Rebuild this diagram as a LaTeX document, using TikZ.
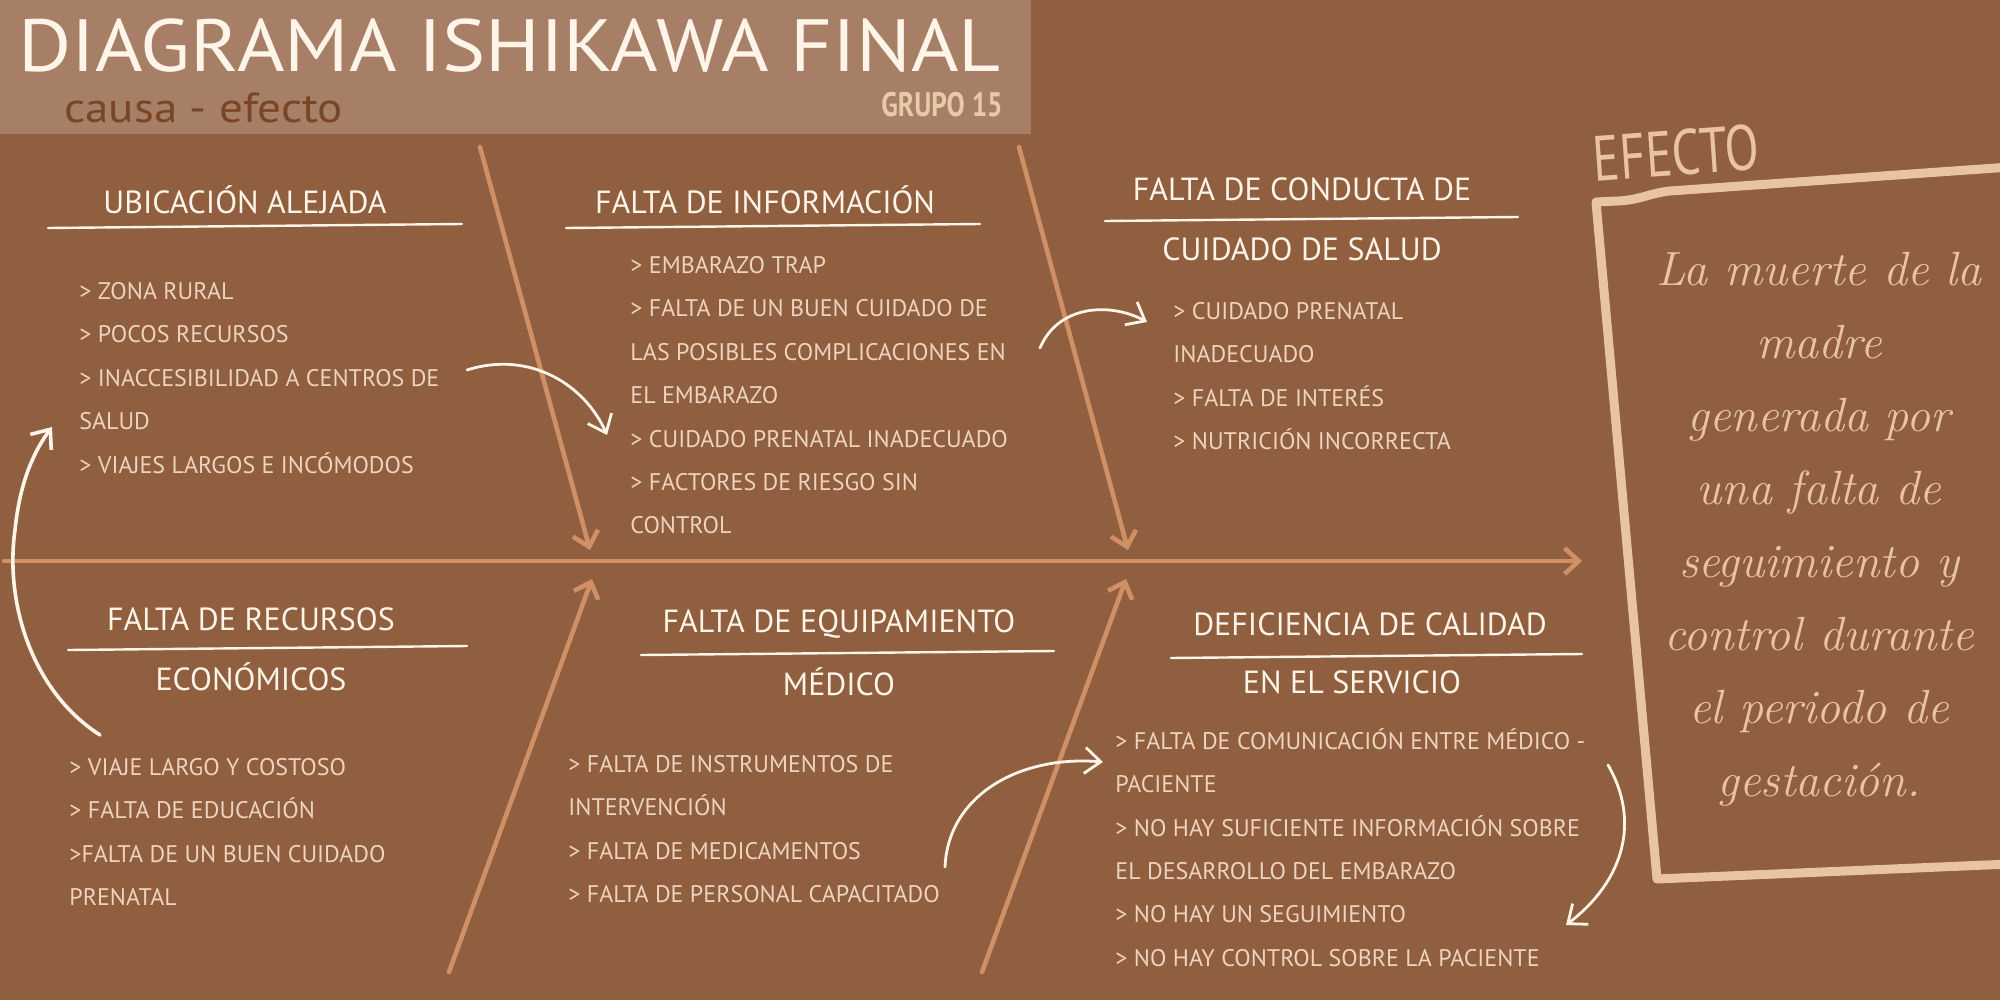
\documentclass[tikz,border=0pt]{standalone}
\usepackage{fontspec}
\usepackage{graphicx}
\newfontfamily\sansf{PT Sans}
\usetikzlibrary{arrows.meta}
\definecolor{bgbrown}{HTML}{8F5F3F}
\definecolor{bandbrown}{HTML}{A67F66}
\definecolor{spinecol}{HTML}{D08F65}
\definecolor{chalk}{HTML}{FFF4E8}
\definecolor{itemcol}{HTML}{EED3BE}
\definecolor{peach}{HTML}{E9C4A4}
\definecolor{darkbrown}{HTML}{7A4524}
\definecolor{grupocol}{HTML}{E8C9A8}
\tikzset{
  bone/.style={draw=spinecol, line width=2.3pt, line cap=round,
    -{Straight Barb[length=7pt,width=13pt]}},
  chalkarrow/.style={draw=chalk, line width=1.4pt, line cap=round,
    -{Straight Barb[length=8pt,width=13pt]}},
  headtxt/.style={font=\sansf\fontsize{16}{18}\selectfont, text=chalk, inner sep=0pt},
  itemtxt/.style={font=\sansf\fontsize{12}{21.7}\selectfont, text=itemcol,
    align=left, anchor=north west, inner sep=0pt},
  uline/.style={draw=chalk, line width=1.2pt, line cap=round},
}
\begin{document}
\begin{tikzpicture}[x=0.5pt,y=-0.5pt]
\useasboundingbox (0,0) rectangle (2000,1000);
\fill[bgbrown] (0,0) rectangle (2000,1000);
% header band
\fill[bandbrown] (0,0) rectangle (1031,134);
\node[anchor=west, inner sep=0pt, text=chalk, font=\sansf\fontsize{37}{40}\selectfont] (title) at (18,46) {\scalebox{1.1}[1]{DIAGRAMA ISHIKAWA FINAL}};
\node[anchor=west, inner sep=0pt, text=darkbrown, font=\sansf\fontsize{21}{24}\selectfont] (sub) at (64,108) {\scalebox{1.12}[1]{causa - efecto}};
\node[anchor=east, inner sep=0pt, text=grupocol, font=\sansf\bfseries\fontsize{17}{20}\selectfont] (grupo) at (1003,105) {\scalebox{0.8}[1]{GRUPO 15}};

% spine and ribs
\coordinate (tail) at (4,561);
\coordinate (head) at (1582,561);
\draw[bone] (tail) -- (head);
\coordinate (r1s) at (480,147); \coordinate (r1e) at (590,550);
\coordinate (r2s) at (1019,147); \coordinate (r2e) at (1128,550);
\coordinate (r3s) at (449,972); \coordinate (r3e) at (592,579);
\coordinate (r4s) at (982,972); \coordinate (r4e) at (1126,579);
\draw[bone] (r1s) -- (r1e);
\draw[bone] (r2s) -- (r2e);
\draw[bone] (r3s) -- (r3e);
\draw[bone] (r4s) -- (r4e);

% headings
\node[headtxt] (h1) at (245,200) {UBICACIÓN ALEJADA};
\draw[uline] (48,228) -- (462,224);
\node[headtxt] (h2) at (765,200) {FALTA DE INFORMACIÓN};
\draw[uline] (566,228) -- (980,224);
\node[headtxt] (h3a) at (1302,189) {FALTA DE CONDUCTA DE};
\draw[uline] (1105,221) -- (1518,217);
\node[headtxt] (h3b) at (1302,249) {CUIDADO DE SALUD};
\node[headtxt] (h4a) at (251,619) {FALTA DE RECURSOS};
\draw[uline] (68,650) -- (467,646);
\node[headtxt] (h4b) at (251,677) {ECONÓMICOS};
\node[headtxt] (h5a) at (839,624) {FALTA DE EQUIPAMIENTO};
\draw[uline] (641,655) -- (1054,651);
\node[headtxt] (h5b) at (839,682) {MÉDICO};
\node[headtxt] (h6a) at (1370,624) {DEFICIENCIA DE CALIDAD};
\draw[uline] (1171,658) -- (1582,654);
\node[headtxt] (h6b) at (1352,682) {EN EL SERVICIO};

% item lists
\node[itemtxt] (tl) at (79,282) {> ZONA RURAL\\> POCOS RECURSOS\\> INACCESIBILIDAD A CENTROS DE\\SALUD\\> VIAJES LARGOS E INCÓMODOS};
\node[itemtxt] (tm) at (630,256) {> EMBARAZO TRAP\\> FALTA DE UN BUEN CUIDADO DE\\LAS POSIBLES COMPLICACIONES EN\\EL EMBARAZO\\> CUIDADO PRENATAL INADECUADO\\> FACTORES DE RIESGO SIN\\CONTROL};
\node[itemtxt] (tr) at (1173,302) {> CUIDADO PRENATAL\\INADECUADO\\> FALTA DE INTERÉS\\> NUTRICIÓN INCORRECTA};
\node[itemtxt] (bl) at (69,758) {> VIAJE LARGO Y COSTOSO\\> FALTA DE EDUCACIÓN\\>FALTA DE UN BUEN CUIDADO\\PRENATAL};
\node[itemtxt] (bm) at (568,755) {> FALTA DE INSTRUMENTOS DE\\INTERVENCIÓN\\> FALTA DE MEDICAMENTOS\\> FALTA DE PERSONAL CAPACITADO};
\node[itemtxt] (br) at (1115,728) {> FALTA DE COMUNICACIÓN ENTRE MÉDICO -\\PACIENTE\\> NO HAY SUFICIENTE INFORMACIÓN SOBRE\\EL DESARROLLO DEL EMBARAZO\\> NO HAY UN SEGUIMIENTO\\> NO HAY CONTROL SOBRE LA PACIENTE};

% curved chalk arrows
\coordinate (a1s) at (100,735); \coordinate (a1e) at (52,427);
\draw[chalkarrow, line width=1.8pt] (a1s) .. controls (30,690) and (5,600) .. (15,530) .. controls (20,480) and (35,450) .. (a1e);
\coordinate (a2s) at (467,370); \coordinate (a2e) at (607,435);
\draw[chalkarrow] (a2s) .. controls (530,350) and (585,385) .. (a2e);
\coordinate (a3s) at (1040,348); \coordinate (a3e) at (1147,322);
\draw[chalkarrow] (a3s) .. controls (1058,305) and (1110,302) .. (a3e);
\coordinate (a4s) at (945,867); \coordinate (a4e) at (1103,762);
\draw[chalkarrow] (a4s) .. controls (948,795) and (1020,755) .. (a4e);
\coordinate (a5s) at (1608,765); \coordinate (a5e) at (1566,925);
\draw[chalkarrow] (a5s) .. controls (1640,820) and (1625,880) .. (a5e);

% effect
\node[inner sep=0pt, text=peach, rotate=4, font=\sansf\fontsize{32}{36}\selectfont] (efecto) at (1676,153) {\scalebox{0.78}[1]{EFECTO}};
\draw[peach, line width=4.5pt, line join=round, line cap=round]
  (2010,167) -- (1670,191) .. controls (1650,193) and (1640,200) .. (1618,201) -- (1596,202) -- (1657,879) -- (2010,864);
\node[inner sep=0pt, text=peach, align=center, anchor=north, font=\itshape\fontsize{24}{36.5}\selectfont] (effect) at (1819,252)
  {La muerte de la\\madre\\generada por\\una falta de\\seguimiento y\\control durante\\el periodo de\\gestación.};
\end{tikzpicture}
\end{document}
